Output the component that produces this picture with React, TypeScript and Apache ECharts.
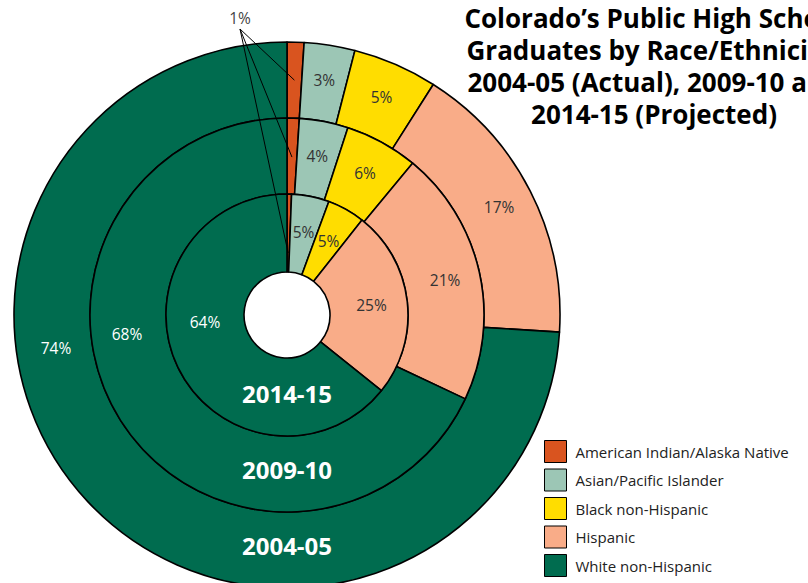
import React, { useEffect, useRef } from 'react';
import * as echarts from 'echarts';

const categories = [
  'American Indian/Alaska Native',
  'Asian/Pacific Islander',
  'Black non-Hispanic',
  'Hispanic',
  'White non-Hispanic',
];
const sliceColors = ['#d9541f', '#9cc6b5', '#ffdd00', '#f9ac88', '#006c4f'];
const years = ['2004-05', '2009-10', '2014-15'];
const share0405 = [1, 3, 5, 17, 74];
const share0910 = [1, 4, 6, 21, 68];
const share1415 = [0.6, 5, 5, 25, 64];
const smallLabel = '1%';
const titleLines = [
  'Colorado\u2019s Public High School',
  'Graduates by Race/Ethnicity,',
  '2004-05 (Actual), 2009-10 and',
  '2014-15 (Projected)',
];

export default function App() {
  const ref = useRef<HTMLDivElement>(null);
  useEffect(() => {
    const chart = echarts.init(ref.current!, null, { renderer: 'svg' });
    const cx = 287;
    const cy = 315;
    const font = 'Open Sans';
    const rings = [
      { name: years[0], values: share0405, radius: [197, 273], lineR: 235, whiteLabel: [56, 348], yearY: 545 },
      { name: years[1], values: share0910, radius: [121, 197], lineR: 158, whiteLabel: [127, 334], yearY: 469 },
      { name: years[2], values: share1415, radius: [43, 121], lineR: 62, whiteLabel: [205, 322], yearY: 393 },
    ];
    const series = rings.map((r) => ({
      type: 'pie',
      name: r.name,
      center: [cx, cy],
      radius: r.radius,
      startAngle: 90,
      clockwise: true,
      silent: true,
      avoidLabelOverlap: false,
      label: {
        show: true,
        position: 'inside',
        formatter: (p: any) => (p.dataIndex === 0 || p.dataIndex === 4 ? '' : `${p.value}%`),
        color: '#333',
        fontSize: 15.5,
        fontFamily: font,
      },
      labelLine: { show: false },
      itemStyle: { borderColor: '#000', borderWidth: 1.6 },
      data: categories.map((c, i) => ({ name: c, value: r.values[i], itemStyle: { color: sliceColors[i] } })),
    }));

    const apex = [240, 29];
    const graphics: any[] = [];
    rings.forEach((r) => {
      const total = r.values.reduce((a, b) => a + b, 0);
      const a = ((r.values[0] / 2) / total) * Math.PI * 2;
      const ex = cx + r.lineR * Math.sin(a);
      const ey = cy - r.lineR * Math.cos(a);
      graphics.push({
        type: 'line',
        shape: { x1: apex[0], y1: apex[1], x2: ex, y2: ey },
        style: { stroke: '#000', lineWidth: 1 },
        z: 100,
      });
      const whitePct = r.values[4];
      graphics.push({
        type: 'text',
        x: r.whiteLabel[0],
        y: r.whiteLabel[1],
        style: { text: `${whitePct}%`, fill: '#fff', font: `15.5px "${font}"`, textAlign: 'center', textVerticalAlign: 'middle' },
        z: 100,
      });
      graphics.push({
        type: 'text',
        x: cx,
        y: r.yearY,
        style: { text: r.name, fill: '#fff', font: `bold 24px "${font}"`, textAlign: 'center', textVerticalAlign: 'middle' },
        z: 100,
      });
    });
    graphics.push({
      type: 'text',
      x: 240,
      y: 18,
      style: { text: smallLabel, fill: '#444', font: `15.5px "${font}"`, textAlign: 'center', textVerticalAlign: 'middle' },
      z: 100,
    });
    titleLines.forEach((line, i) => {
      graphics.push({
        type: 'text',
        x: 654,
        y: 18 + i * 32,
        style: {
          text: line,
          fill: '#000',
          font: `bold 26px "${font}"`,
          lineHeight: 30,
          textAlign: 'center',
          textVerticalAlign: 'middle',
        },
        z: 100,
      });
    });

    chart.setOption({
      animation: false,
      backgroundColor: '#fff',
      legend: {
        orient: 'vertical',
        left: 544,
        top: 440,
        padding: 0,
        itemWidth: 22,
        itemHeight: 22,
        itemGap: 5.5,
        icon: 'rect',
        selectedMode: false,
        data: categories,
        itemStyle: { borderColor: '#000', borderWidth: 1 },
        textStyle: { fontFamily: font, fontSize: 15, color: '#222', padding: [0, 0, 0, 4] },
      },
      series,
      graphic: graphics,
    });
    return () => chart.dispose();
  }, []);
  return (
    <div
      ref={ref}
      style={{ position: 'fixed', left: 0, top: 0, width: 808, height: 583 }}
    />
  );
}
